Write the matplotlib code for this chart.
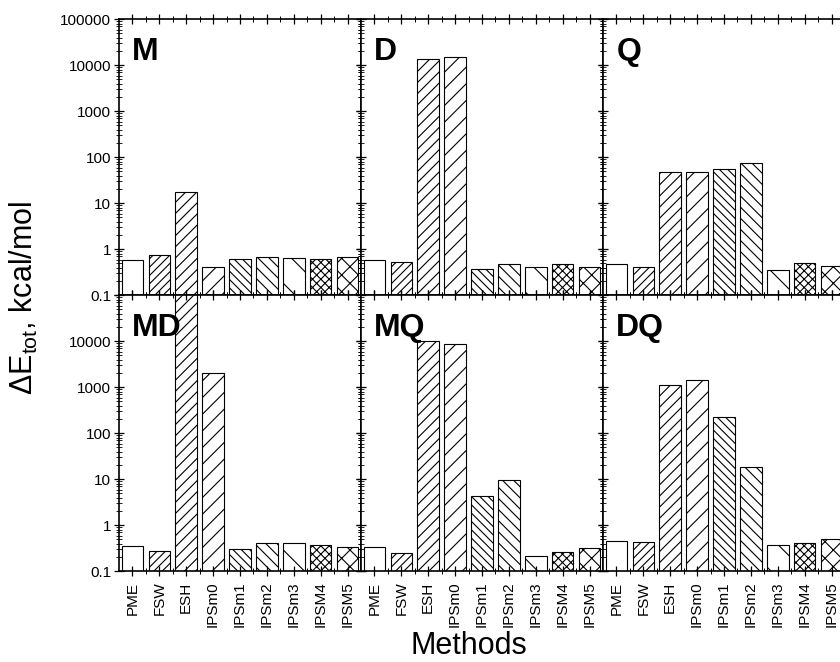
import matplotlib
matplotlib.use('Agg')
import matplotlib.pyplot as plt
from matplotlib.ticker import LogLocator, NullFormatter, FixedLocator, FixedFormatter

plt.rcParams['font.family'] = ['Liberation Sans', 'DejaVu Sans']
plt.rcParams['mathtext.fontset'] = 'custom'
plt.rcParams['mathtext.rm'] = 'Liberation Sans'
plt.rcParams['mathtext.it'] = 'Liberation Sans:italic'
plt.rcParams['hatch.linewidth'] = 0.8

# methods and their bar hatches
methods = ['PME', 'FSW', 'ESH', 'IPSm0', 'IPSm1', 'IPSm2', 'IPSm3', 'IPSM4', 'IPSM5']
hatches = ['', '////', '///', '//', '\\\\\\\\', '\\\\\\', '\\', 'xxxx', 'xx']

# energy differences (kcal/mol)
panel_names = ['M', 'D', 'Q', 'MD', 'MQ', 'DQ']
m_vals = [0.59, 0.76, 18.0, 0.41, 0.60, 0.66, 0.63, 0.62, 0.66]
d_vals = [0.57, 0.51, 14000, 15000, 0.37, 0.46, 0.40, 0.46, 0.40]
q_vals = [0.46, 0.41, 49, 49, 57, 76, 0.34, 0.50, 0.43]
md_vals = [0.34, 0.26, 500000, 2040, 0.30, 0.41, 0.40, 0.355, 0.32]
mq_vals = [0.32, 0.24, 10000, 8600, 4.3, 9.8, 0.21, 0.255, 0.305]
dq_vals = [0.45, 0.43, 1145, 1470, 223, 18.9, 0.37, 0.41, 0.50]
all_vals = [m_vals, d_vals, q_vals, md_vals, mq_vals, dq_vals]

yticks = [0.1, 1, 10, 100, 1000, 10000, 100000]
ytick_labels = ['0.1', '1', '10', '100', '1000', '10000', '100000']

fig = plt.figure(figsize=(8.4, 6.62), dpi=100)

W, H = 840.0, 662.0
left_px, col_w = 119.0, 242.0
top_px, row_h = 19.3, 276.0

x = list(range(1, len(methods) + 1))

for i, vals in enumerate(all_vals):
    row, col = divmod(i, 3)
    l = (left_px + col * col_w) / W
    b = 1 - (top_px + (row + 1) * row_h) / H
    ax = fig.add_axes([l, b, col_w / W, row_h / H])
    ax.set_yscale('log')
    bars = ax.bar(x, vals, width=0.8, bottom=0.01, color='white',
                  edgecolor='black', linewidth=0.8)
    for bar, h in zip(bars, hatches):
        bar.set_hatch(h)
    ax.set_xlim(0.5, 9.5)
    ax.set_ylim(0.1, 100000)

    ax.yaxis.set_major_locator(FixedLocator(yticks))
    labels = list(ytick_labels)
    if row == 1:
        labels[-1] = ''
    ax.yaxis.set_major_formatter(FixedFormatter(labels))
    ax.yaxis.set_minor_locator(LogLocator(base=10, subs=range(2, 10), numticks=20))
    ax.yaxis.set_minor_formatter(NullFormatter())

    ax.set_xticks(x)
    ax.set_xticks([v + 0.5 for v in x[:-1]], minor=True)
    ax.set_xticklabels(methods, rotation=90, fontsize=11)

    ax.tick_params(axis='y', which='major', direction='inout', length=7, width=0.9,
                   left=True, right=True, labelleft=(col == 0), labelsize=11, pad=2)
    ax.tick_params(axis='y', which='minor', direction='inout', length=4, width=0.6,
                   left=True, right=True)
    ax.tick_params(axis='x', which='major', direction='inout', length=7, width=0.9,
                   top=True, bottom=True, labelbottom=(row == 1), pad=4)
    ax.tick_params(axis='x', which='minor', direction='inout', length=4, width=0.7,
                   top=True, bottom=True)
    for s in ax.spines.values():
        s.set_linewidth(1.2)

    ax.text(0.055, 0.935, panel_names[i], transform=ax.transAxes, ha='left', va='top',
            fontsize=23, fontweight='bold')

fig.text(24 / W, 0.55, 'ΔE$_{\\mathrm{tot}}$, kcal/mol', rotation=90,
         ha='center', va='center', fontsize=22)
fig.text(469 / W, 1 - 654 / H, 'Methods', ha='center', va='baseline', fontsize=22)

fig.savefig('out.png', dpi=100)
